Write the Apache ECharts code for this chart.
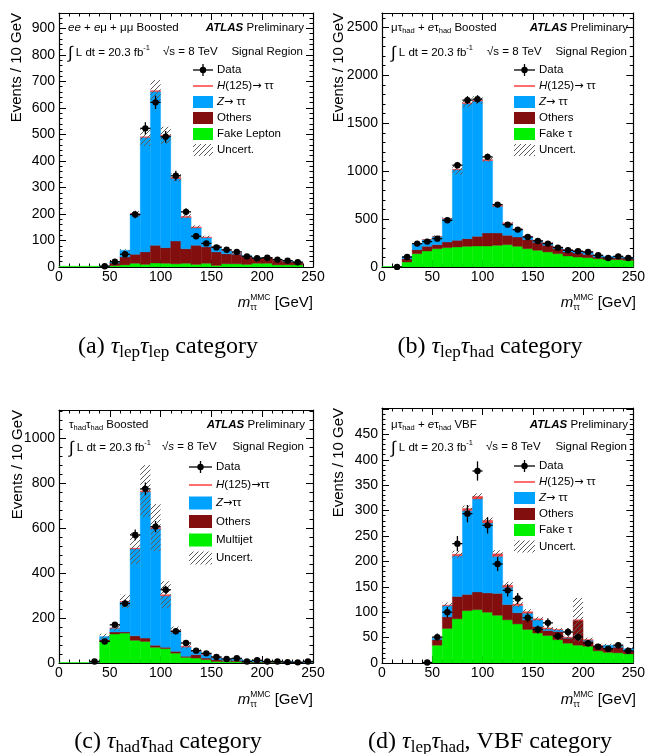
<!DOCTYPE html>
<html><head><meta charset="utf-8">
<script src="https://cdn.jsdelivr.net/npm/echarts@6/dist/echarts.min.js"></script>
<style>html,body{margin:0;padding:0;background:#fff}#c{width:648px;height:754px}</style>
</head><body><div id="c"></div>
<script>
// ---------------- DATA ----------------
const binLow  = [0,10,20,30,40,50,60,70,80,90,100,110,120,130,140,150,160,170,180,190,200,210,220,230,240];
const binHigh = [10,20,30,40,50,60,70,80,90,100,110,120,130,140,150,160,170,180,190,200,210,220,230,240,250];

// (a) lep-lep boosted
const aFake   = [3,3,3,3,3, 5,8,14,10,15, 14,12,14,10,14, 6,12,12,10,14, 14,8,8,8,0];
const aOthers = [0,0,0,0,0, 10,30,34,47,67, 59,86,55,72,62, 51,38,36,28,19, 21,17,13,10,0];
const aZ      = [0,0,0,0,1, 4,25,152,432,580, 421,236,118,66,35, 20,12,4,5,2, 0,0,2,1,0];
const aH      = [0,0,0,0,0, 0,0,1,2,3, 3,4,4,3,2, 1,1,1,0,0, 0,0,0,0,0];
const aUnc    = [0,0,0,0,1, 2,4,10,35,40, 32,15,8,6,5, 4,3,3,3,2, 2,2,2,2,0];
const aData   = [null,null,null,null,3, 20,48,198,523,621, 491,344,208,116,89, 74,65,57,40,33, 35,28,24,18,null];
const aErr    = [0,0,0,0,2, 4,7,14,23,25, 22,19,14,11,9, 9,8,8,6,6, 6,5,5,4,0];

// (b) lep-had boosted
const bFake   = [5,5,52,139,167, 191,202,209,216,219, 219,226,233,216,191, 174,157,139,115,104, 97,87,77,77,70];
const bOthers = [0,0,35,42,49, 42,59,70,80,101, 136,129,98,97,95, 84,69,52,42,42, 35,17,20,17,17];
const bZ      = [0,0,24,62,69, 85,241,736,1409,1411, 754,279,121,78,30, 18,23,16,23,20, 24,18,14,10,10];
const bH      = [0,0,0,1,1, 2,3,5,8,10, 12,10,8,6,4, 3,2,2,1,1, 1,0,0,0,0];
const bUnc    = [0,0,5,8,10, 10,15,55,45,40, 25,15,10,8,7, 6,6,5,5,5, 5,4,4,4,4];
const bData   = [null,1,104,244,265, 296,487,1062,1741,1751, 1149,651,442,390,313, 272,244,202,174,164, 157,122,94,111,94];
const bErr    = [0,1,10,16,16, 17,22,33,42,42, 34,26,21,20,18, 16,16,14,13,13, 13,11,10,11,10];

// (c) had-had boosted
const cFake   = [2,2,2,3,96, 129,133,101,96,70, 64,44,25,22,15, 7,7,6,3,3, 3,3,2,2,2];
const cOthers = [0,0,0,1,8, 9,5,20,15,9, 6,8,5,15,7, 8,5,6,3,3, 2,2,2,1,1];
const cZ      = [0,0,0,1,14, 17,134,387,651,519, 229,88,41,16,17, 9,7,6,6,4, 2,2,2,1,1];
const cH      = [0,0,0,0,0, 1,2,3,4,5, 5,4,3,2,1, 1,0,0,0,0, 0,0,0,0,0];
const cUnc    = [0,0,0,1,12, 12,30,70,115,105, 60,18,10,6,5, 3,3,3,2,2, 2,2,2,1,1];
const cData   = [null,null,null,7,96, 170,265,570,775,607, 326,141,89,55,43, 27,18,21,7,12, 7,7,4,3,7];
const cErr    = [0,0,0,3,10, 13,16,24,28,25, 18,12,9,7,7, 5,4,5,3,3, 3,3,2,2,3];

// (d) lep-had VBF
const dFake   = [0,0,0,0,0, 35,68,87,103,105, 100,94,85,77,66, 59,54,46,39,35, 33,24,21,20,18];
const dOthers = [0,0,0,0,0, 11,23,44,32,35, 38,43,30,22,19, 13,10,16,10,49, 10,9,9,11,6];
const dZ      = [0,0,0,0,0, 3,22,80,165,183, 138,73,34,14,13, 13,3,3,1,0, 2,1,5,2,4];
const dH      = [0,0,0,0,0, 0,1,3,4,5, 5,5,4,3,3, 2,2,1,1,1, 1,1,0,0,0];
const dUnc    = [0,0,0,0,0, 3,5,7,6,6, 6,7,7,6,5, 4,4,3,3,43, 4,3,3,3,3];
const dData   = [null,null,null,null,1, 51,100,235,294,378, 271,195,143,127,89, 66,79,53,61,51, 39,32,28,35,24];
const dErr    = [0,0,0,0,1, 7,10,15,17,19, 16,14,12,11,9, 8,9,7,8,7, 6,6,5,6,5];

const xTicks = [0,50,100,150,200,250];

// ---------------- STYLE ----------------
const SANS = "'Liberation Sans', Arial, Helvetica, sans-serif";
const SERIF = "'Liberation Serif', 'Times New Roman', serif";
const ARROWF = "'DejaVu Sans', sans-serif";
const GREEN = '#00f000', DARKRED = '#820e0e', BLUE = '#00a2ff', HRED = '#ff3c3c';

const hc = document.createElement('canvas'); hc.width = 5; hc.height = 5;
(function(){ const g = hc.getContext('2d'); g.strokeStyle = '#5a5a5a'; g.lineWidth = 1;
  g.beginPath(); g.moveTo(0,5); g.lineTo(5,0); g.moveTo(-2.5,2.5); g.lineTo(2.5,-2.5); g.moveTo(2.5,7.5); g.lineTo(7.5,2.5); g.stroke(); })();
const HATCH = {image: hc, repeat: 'repeat'};

const mctx = document.createElement('canvas').getContext('2d');
function run(x, y, parts, align, base, fam) {
  let cx = 0, lastX = 0, lastW = 0; const items = [];
  parts.forEach(p => {
    if (typeof p === 'string') p = {t: p};
    const size = p.s || base, f = p.f || fam || SANS;
    const st = p.it ? 'italic' : 'normal', wt = p.b ? 'bold' : 'normal';
    mctx.font = st + ' ' + wt + ' ' + size + 'px ' + f;
    const w = mctx.measureText(p.t).width;
    let px;
    if (p.ov) { px = lastX; const adv = Math.max(lastW, w); cx = lastX + adv; lastW = adv; }
    else { px = cx; cx += w; lastX = px; lastW = w; }
    items.push({px, dy: p.dy || 0, t: p.t, size, f, st, wt});
  });
  const off = align === 'right' ? -cx : align === 'center' ? -cx / 2 : 0;
  return items.map(it => ({type: 'text', x: x + off + it.px, y: y + it.dy, silent: true, z: 50,
    style: {text: it.t, fontSize: it.size, fontFamily: it.f, fontStyle: it.st, fontWeight: it.wt, fill: '#000',
      align: 'left', verticalAlign: 'middle', textAlign: 'left', textVerticalAlign: 'middle'}}));
}

// ---------------- LAYOUT ----------------
const panels = [
  {fake:aFake, others:aOthers, z:aZ, h:aH, unc:aUnc, data:aData, err:aErr, left:59, top:13, height:254, yMax:958, yInt:100, yLim:900},
  {fake:bFake, others:bOthers, z:bZ, h:bH, unc:bUnc, data:bData, err:bErr, left:382, top:13, height:254, yMax:2650, yInt:500, yLim:2500},
  {fake:cFake, others:cOthers, z:cZ, h:cH, unc:cUnc, data:cData, err:cErr, left:59, top:410, height:253, yMax:1126, yInt:200, yLim:1000},
  {fake:dFake, others:dOthers, z:dZ, h:dH, unc:dUnc, data:dData, err:dErr, left:382, top:408, height:255, yMax:502, yInt:50, yLim:450}
];

function axisCommon(show) {
  return {
    axisLine: {show: true, onZero: false, lineStyle: {color: '#000', width: 1.2}},
    axisTick: {show: true, inside: true, length: 7, lineStyle: {color: '#000', width: 1}},
    minorTick: {show: true, splitNumber: 5, length: 3.5, lineStyle: {color: '#000', width: 1}},
    splitLine: {show: false}, minorSplitLine: {show: false},
    axisLabel: {show: show, fontSize: 14, color: '#000', fontFamily: SANS, margin: 3}
  };
}

const grids = [], xAxes = [], yAxes = [], series = [];

function renderStack(params, api) {
  const lo = api.value(0), hi = api.value(1);
  const vals = [api.value(2), api.value(3), api.value(4), api.value(5)];
  const cols = [GREEN, DARKRED, BLUE, HRED];
  let base = 0; const ch = [];
  for (let k = 0; k < 4; k++) {
    const v = vals[k];
    if (v > 0) {
      const p0 = api.coord([lo, base]), p1 = api.coord([hi, base + v]);
      ch.push({type: 'rect', shape: {x: p0[0], y: p1[1], width: p1[0] - p0[0], height: p0[1] - p1[1]},
        style: {fill: cols[k], stroke: cols[k], lineWidth: 0.4}});
    }
    base += v;
  }
  return {type: 'group', children: ch};
}
function renderUnc(params, api) {
  const lo = api.value(0), hi = api.value(1);
  const tot = api.value(2) + api.value(3) + api.value(4) + api.value(5);
  const u = api.value(6);
  if (!(u > 0)) return null;
  const p0 = api.coord([lo, Math.max(tot - u, 0)]), p1 = api.coord([hi, tot + u]);
  return {type: 'rect', shape: {x: p0[0], y: p1[1], width: p1[0] - p0[0], height: p0[1] - p1[1]}, style: {fill: HATCH}};
}
function renderData(params, api) {
  const lo = api.value(0), hi = api.value(1), v = api.value(2), e = api.value(3);
  const pl = api.coord([lo, v]), ph = api.coord([hi, v]);
  const cx = (pl[0] + ph[0]) / 2, cy = pl[1];
  const yt = api.coord([lo, v + e])[1], yb = api.coord([lo, Math.max(v - e, 0)])[1];
  return {type: 'group', children: [
    {type: 'line', shape: {x1: pl[0], y1: cy, x2: ph[0], y2: cy}, style: {stroke: '#000', lineWidth: 1.3}},
    {type: 'line', shape: {x1: cx, y1: yt, x2: cx, y2: yb}, style: {stroke: '#000', lineWidth: 1.3}},
    {type: 'circle', shape: {cx: cx, cy: cy, r: 3.2}, style: {fill: '#000'}}
  ]};
}

panels.forEach((p, g) => {
  grids.push({left: p.left, top: p.top, width: 254, height: p.height, containLabel: false});
  xAxes.push(Object.assign({gridIndex: g, type: 'value', min: xTicks[0], max: xTicks[xTicks.length - 1], interval: xTicks[1] - xTicks[0], position: 'bottom'}, axisCommon(true)));
  xAxes.push(Object.assign({gridIndex: g, type: 'value', min: xTicks[0], max: xTicks[xTicks.length - 1], interval: xTicks[1] - xTicks[0], position: 'top'}, axisCommon(false)));
  const yl = Object.assign({gridIndex: g, type: 'value', min: 0, max: p.yMax, interval: p.yInt, position: 'left'}, axisCommon(true));
  yl.axisLabel.formatter = v => (v > p.yLim ? '' : String(v));
  yl.axisLabel.margin = 4;
  yAxes.push(yl);
  yAxes.push(Object.assign({gridIndex: g, type: 'value', min: 0, max: p.yMax, interval: p.yInt, position: 'right'}, axisCommon(false)));
  const rows = binLow.map((lo, i) => [lo, binHigh[i], p.fake[i], p.others[i], p.z[i], p.h[i], p.unc[i]]);
  const drows = [];
  binLow.forEach((lo, i) => { if (p.data[i] != null) drows.push([lo, binHigh[i], p.data[i], p.err[i]]); });
  const base = {type: 'custom', xAxisIndex: 2 * g, yAxisIndex: 2 * g, silent: true, clip: true, encode: {x: [0, 1], y: 2}};
  series.push(Object.assign({}, base, {name: 'stack' + g, data: rows, renderItem: renderStack, z: 2}));
  series.push(Object.assign({}, base, {name: 'unc' + g, data: rows, renderItem: renderUnc, z: 3}));
  series.push(Object.assign({}, base, {name: 'data' + g, data: drows, renderItem: renderData, z: 4, clip: false}));
});

// ---------------- TEXT & LEGENDS ----------------
let G = [];
const FS = 11.5;
function ann(left, right, y1, y2, line1, sqrtX, sItalic) {
  G = G.concat(run(left, y1, line1, 'left', FS));
  G = G.concat(run(right + 1, y1, [{t: 'ATLAS', b: true, it: true}, ' Preliminary'], 'right', FS));
  G = G.concat(run(left, y2 + 1, [{t: '∫', s: 17}, ' L dt = 20.3 fb', {t: '-1', s: 7.5, dy: -5}], 'left', FS));
  G = G.concat(run(sqrtX, y2, ['√', {t: 's', it: sItalic}, ' = 8 TeV'], 'left', FS));
  G = G.concat(run(right, y2, ['Signal Region'], 'right', FS));
}
ann(68, 303, 28, 52, [{t: 'ee', it: true}, ' + ', {t: 'e', it: true}, 'μ + μμ Boosted'], 163, false);
ann(391, 627, 28, 52, ['μτ', {t: 'had', s: 7.5, dy: 3}, ' + ', {t: 'e', it: true}, 'τ', {t: 'had', s: 7.5, dy: 3}, ' Boosted'], 487, false);
ann(69, 304, 425, 447, ['τ', {t: 'had', s: 7.5, dy: 3}, 'τ', {t: 'had', s: 7.5, dy: 3}, ' Boosted'], 162, true);
ann(391, 627, 425, 447, ['μτ', {t: 'had', s: 7.5, dy: 3}, ' + ', {t: 'e', it: true}, 'τ', {t: 'had', s: 7.5, dy: 3}, ' VBF'], 486, false);

function legend(x0, x1, tx, rows, labels, bh) {
  const kinds = ['data', 'line', BLUE, DARKRED, GREEN, 'hatch'];
  kinds.forEach((k, i) => {
    const y = rows[i];
    if (k === 'data') {
      G.push({type: 'line', shape: {x1: x0, y1: y, x2: x1, y2: y}, style: {stroke: '#000', lineWidth: 1.3}, silent: true, z: 50});
      G.push({type: 'line', shape: {x1: (x0 + x1) / 2, y1: y - 6, x2: (x0 + x1) / 2, y2: y + 6}, style: {stroke: '#000', lineWidth: 1.3}, silent: true, z: 50});
      G.push({type: 'circle', shape: {cx: (x0 + x1) / 2, cy: y, r: 3.2}, style: {fill: '#000'}, silent: true, z: 50});
    } else if (k === 'line') {
      G.push({type: 'line', shape: {x1: x0, y1: y, x2: x1, y2: y}, style: {stroke: HRED, lineWidth: 1.5}, silent: true, z: 50});
    } else {
      G.push({type: 'rect', shape: {x: x0, y: y - bh / 2, width: x1 - x0, height: bh}, style: {fill: k === 'hatch' ? HATCH : k}, silent: true, z: 50});
    }
    G = G.concat(run(tx, y, labels[i], 'left', FS));
  });
}
const AR = {t: '→', f: ARROWF, s: 11};
const Hlab = [{t: 'H', it: true}, '(125)', AR, ' ττ'], Zlab = [{t: 'Z', it: true}, AR, ' ττ'];
legend(193, 213, 217, [70, 86, 102, 118, 134, 150], [['Data'], Hlab, Zlab, ['Others'], ['Fake Lepton'], ['Uncert.']], 12);
legend(514, 535, 539, [70, 86, 102, 118, 134, 150], [['Data'], Hlab, Zlab, ['Others'], ['Fake τ'], ['Uncert.']], 12);
legend(189, 212, 216, [467, 485, 503, 521.5, 540, 558], [['Data'], [{t: 'H', it: true}, '(125)', AR, 'ττ'], [{t: 'Z', it: true}, AR, 'ττ'], ['Others'], ['Multijet'], ['Uncert.']], 13);
legend(514, 535, 539, [466, 482, 498, 514, 530, 546.5], [['Data'], Hlab, Zlab, ['Others'], ['Fake τ'], ['Uncert.']], 12);

// axis titles
function ytitle(x, y) {
  G.push({type: 'text', x: x, y: y, rotation: Math.PI / 2, silent: true, z: 50,
    style: {text: 'Events / 10 GeV', fontSize: 15, fontFamily: SANS, fill: '#000', align: 'right', verticalAlign: 'middle', textAlign: 'right', textVerticalAlign: 'middle'}});
}
ytitle(17, 13); ytitle(339, 13); ytitle(18, 410); ytitle(339, 408);
function xtitle(right, y) {
  G = G.concat(run(right, y, [{t: 'm', it: true}, {t: 'MMC', s: 8.5, dy: -5}, {t: 'ττ', s: 8.5, dy: 5, ov: true}, ' [GeV]'], 'right', 15));
}
xtitle(313, 303); xtitle(636, 303); xtitle(313, 700); xtitle(636, 700);
// captions
function caption(cx, y, lab, s1, s2, rest) {
  G = G.concat(run(cx, y, [lab, {t: 'τ', it: true}, {t: s1, s: 17, dy: 6}, {t: 'τ', it: true}, {t: s2, s: 17, dy: 6}, rest], 'center', 24, SERIF));
}
caption(168, 347, '(a) ', 'lep', 'lep', ' category');
caption(490, 347, '(b) ', 'lep', 'had', ' category');
caption(168, 742, '(c) ', 'had', 'had', ' category');
caption(490, 742, '(d) ', 'lep', 'had', ', VBF category');

const chart = echarts.init(document.getElementById('c'), null, {renderer: 'canvas'});
chart.setOption({
  animation: false,
  backgroundColor: '#fff',
  grid: grids, xAxis: xAxes, yAxis: yAxes, series: series,
  graphic: {elements: G}
});
</script></body></html>
